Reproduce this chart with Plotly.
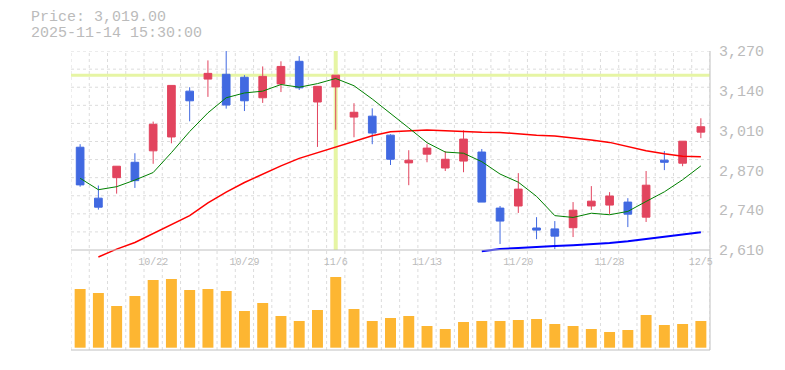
import plotly.graph_objects as go

# ---------------- data ----------------
dates = ["10/16", "10/17", "10/20", "10/21", "10/22", "10/23", "10/24", "10/27", "10/28",
         "10/29", "10/30", "10/31", "11/4", "11/5", "11/6", "11/7", "11/10", "11/11",
         "11/12", "11/13", "11/14", "11/17", "11/18", "11/19", "11/20", "11/21", "11/25",
         "11/26", "11/27", "11/28", "12/1", "12/2", "12/3", "12/4", "12/5"]
open_ = [2951, 2782, 2850, 2901, 2939, 2985, 3137, 3177, 3193, 3183, 3115, 3161, 3236, 3101,
         3151, 3051, 3054, 2991, 2899, 2928, 2882, 2905, 2935, 2749, 2756, 2683, 2680, 2684,
         2756, 2759, 2769, 2719, 2908, 2898, 3001]
high = [2961, 2824, 2888, 2931, 3036, 3156, 3150, 3239, 3275, 3190, 3219, 3236, 3253, 3153,
        3190, 3097, 3080, 2994, 2941, 2961, 2938, 3007, 2945, 2756, 2865, 2719, 2706, 2769,
        2822, 2802, 2782, 2872, 2938, 2971, 3047]
low = [2820, 2744, 2797, 2816, 2896, 2964, 3037, 3118, 3079, 3071, 3098, 3134, 3141, 2952,
       3009, 2984, 2961, 2892, 2825, 2901, 2872, 2868, 2769, 2630, 2733, 2646, 2613, 2653,
       2743, 2729, 2686, 2703, 2875, 2888, 2981]
close = [2826, 2752, 2888, 2840, 3027, 3156, 3105, 3196, 3091, 3105, 3186, 3219, 3148, 3153,
         3190, 3067, 2998, 2911, 2908, 2948, 2911, 2978, 2769, 2706, 2812, 2676, 2656, 2742,
         2772, 2789, 2729, 2825, 2901, 2971, 3019]
ma_short = [2848, 2810, 2820, 2842, 2867, 2933, 3003, 3065, 3115, 3131, 3137, 3159, 3150,
            3162, 3179, 3155, 3111, 3064, 3015, 2966, 2935, 2931, 2903, 2862, 2835, 2788,
            2724, 2718, 2732, 2727, 2738, 2771, 2803, 2843, 2889]
ma_mid = [None, 2587, 2613, 2635, 2665, 2693, 2724, 2766, 2802, 2834, 2862, 2889, 2914, 2933,
          2950, 2969, 2989, 3002, 3006, 3008, 3006, 3003, 3001, 3000, 2995, 2991, 2988, 2982,
          2975, 2967, 2954, 2939, 2929, 2921, 2919]
ma_long = [None] * 22 + [2606, 2613, 2617, 2619, 2623, 2626, 2629, 2633, 2639, 2646, 2653,
                         2661, 2669]
volume_k = [587, 547, 417, 517, 677, 687, 577, 587, 567, 367, 447, 317, 267, 377, 707, 387,
            267, 297, 317, 217, 187, 257, 267, 267, 277, 287, 237, 217, 187, 157, 177, 327,
            227, 237, 267]
xtick_labels = ["10/22", "10/29", "11/6", "11/13", "11/20", "11/28", "12/5"]
ytick_vals = [2610, 2742, 2874, 3006, 3138, 3270]
ytick_text = ["2,610", "2,740", "2,870", "3,010", "3,140", "3,270"]
grid_levels = [2670, 2730, 2790, 2850, 2910, 2970, 3030, 3090, 3150, 3210, 3270]
cross_index = 14
header_lines = ["Price: 3,019.00", "2025-11-14 15:30:00"]

# ---------------- layout geometry (page pixels; the page body has an 8px margin) ----------
OFF = 8
PAGE_W, PAGE_H = 785, 370
W, H = PAGE_W - OFF, PAGE_H - OFF
PLOT_L, PLOT_R, PLOT_T, PLOT_B = 71, 710, 51, 350       # plot area in page pixels
L, R, T, B = PLOT_L - OFF, W - (PLOT_R - OFF), PLOT_T - OFF, H - (PLOT_B - OFF)
PW, PH = PLOT_R - PLOT_L, PLOT_B - PLOT_T


def px_x(x):
    return (x - PLOT_L) / PW


def px_y(y):
    return (PLOT_B - y) / PH


xs = list(range(len(dates)))
xtick_vals = [dates.index(d) for d in xtick_labels]

FONT = "Liberation Mono, DejaVu Sans Mono, monospace"
TXT = "#bbbbbb"
AXIS = "#c0c0c0"
GRID = "#dcdcdc"
RED = "#e2445e"
BLUE = "#4169e1"
CROSS = "#e6f5a4"

fig = go.Figure()

fig.add_trace(go.Scatter(x=xs, y=ma_long, mode="lines", line=dict(color="#0000ff", width=2),
                         xaxis="x", yaxis="y", showlegend=False, hoverinfo="skip"))
fig.add_trace(go.Scatter(x=xs, y=ma_mid, mode="lines", line=dict(color="#ff0000", width=1.5),
                         xaxis="x", yaxis="y", showlegend=False, hoverinfo="skip"))
fig.add_trace(go.Scatter(x=xs, y=ma_short, mode="lines", line=dict(color="#008000", width=1),
                         xaxis="x", yaxis="y", showlegend=False, hoverinfo="skip"))
fig.add_trace(go.Candlestick(
    x=xs, open=open_, high=high, low=low, close=close,
    increasing=dict(line=dict(color=RED, width=1), fillcolor=RED),
    decreasing=dict(line=dict(color=BLUE, width=1), fillcolor=BLUE),
    whiskerwidth=0, xaxis="x", yaxis="y", showlegend=False))
fig.add_trace(go.Bar(x=xs, y=volume_k, marker=dict(color="#fdb632", line=dict(width=0)),
                     width=0.6, xaxis="x2", yaxis="y2", showlegend=False))

shapes = []
for i in range(len(dates) + 1):
    shapes.append(dict(type="line", xref="x", yref="paper", x0=i - 0.5, x1=i - 0.5, y0=0, y1=1,
                       line=dict(color=GRID, width=1, dash="3px,3px"), layer="below"))
for v in grid_levels:
    shapes.append(dict(type="line", xref="paper", yref="y", x0=0, x1=1, y0=v, y1=v,
                       line=dict(color=GRID, width=1, dash="3px,3px"), layer="below"))
# crosshair
shapes.append(dict(type="line", xref="x", yref="y", x0=cross_index, x1=cross_index,
                   y0=ytick_vals[0], y1=ytick_vals[-1], line=dict(color=CROSS, width=4),
                   layer="below"))
shapes.append(dict(type="line", xref="paper", yref="y", x0=0, x1=1,
                   y0=close[cross_index], y1=close[cross_index],
                   line=dict(color=CROSS, width=3), layer="below"))
# axis lines
shapes.append(dict(type="line", xref="paper", yref="y", x0=0, x1=1, y0=ytick_vals[0],
                   y1=ytick_vals[0], line=dict(color=AXIS, width=1)))
shapes.append(dict(type="line", xref="paper", yref="paper", x0=0, x1=1, y0=0, y1=0,
                   line=dict(color=AXIS, width=1)))
shapes.append(dict(type="line", xref="paper", yref="paper", x0=1, x1=1, y0=0, y1=1,
                   line=dict(color=AXIS, width=1)))

annotations = []
for k, line in enumerate(header_lines):
    annotations.append(dict(text=line, xref="paper", yref="paper", x=px_x(29),
                            y=px_y(17 + 16 * k), xanchor="left", yanchor="middle",
                            showarrow=False, font=dict(family=FONT, size=15, color=TXT)))

# main y: 3270 at top of plot, 2610 at y=250px, domain bottom at 258px
scale = (ytick_vals[-1] - ytick_vals[0]) / (250 - PLOT_T)
y_bottom = ytick_vals[0] - (258 - 250) * scale

fig.update_layout(
    width=W, height=H, margin=dict(l=L, r=R, t=T, b=B),
    paper_bgcolor="white", plot_bgcolor="rgba(0,0,0,0)",
    boxgap=0.4, bargap=0.4,
    shapes=shapes, annotations=annotations,
    xaxis=dict(domain=[0, 1], range=[-0.5, len(dates) - 0.5], showgrid=False, zeroline=False,
               showline=False, showticklabels=False, rangeslider=dict(visible=False),
               anchor="y"),
    yaxis=dict(domain=[px_y(258), 1], range=[y_bottom, ytick_vals[-1] + 0.2], side="right",
               showgrid=False, zeroline=False, showline=False, tickvals=ytick_vals,
               ticktext=ytick_text, ticks="", ticklabelstandoff=8,
               tickfont=dict(family=FONT, size=15, color=TXT), anchor="x"),
    xaxis2=dict(domain=[0, 1], range=[-0.5, len(dates) - 0.5], matches="x", side="top",
                showgrid=False, zeroline=False, showline=False, tickvals=xtick_vals,
                ticktext=xtick_labels, ticks="", tickangle=0,
                tickfont=dict(family=FONT, size=10, color=TXT), anchor="y2"),
    yaxis2=dict(domain=[0, px_y(268)], range=[-23, 797], showgrid=False, zeroline=False,
                showline=False, showticklabels=False, anchor="x2"),
)

fig.write_html("out.html")
